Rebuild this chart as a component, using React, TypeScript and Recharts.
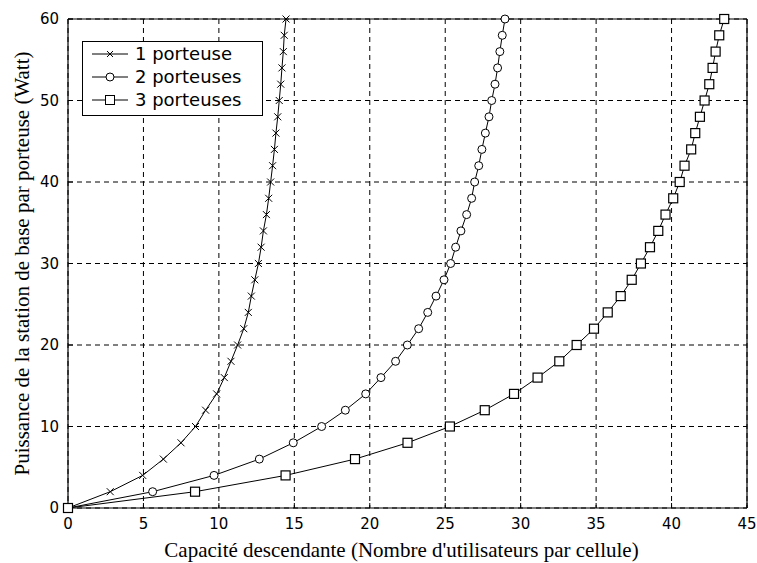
import React from 'react';
import { LineChart, Line, XAxis, YAxis, CartesianGrid, Legend } from 'recharts';

const powerWatts = [0, 2, 4, 6, 8, 10, 12, 14, 16, 18, 20, 22, 24, 26, 28, 30, 32, 34, 36, 38, 40, 42, 44, 46, 48, 50, 52, 54, 56, 58, 60];
const capacity1 = [0, 2.8, 4.95, 6.32, 7.49, 8.45, 9.12, 9.85, 10.36, 10.8, 11.24, 11.65, 11.95, 12.15, 12.38, 12.62, 12.8, 12.95, 13.15, 13.3, 13.43, 13.56, 13.68, 13.78, 13.9, 14.0, 14.1, 14.18, 14.27, 14.33, 14.45];
const capacity2 = [0, 5.61, 9.68, 12.68, 14.93, 16.81, 18.38, 19.73, 20.74, 21.71, 22.49, 23.24, 23.84, 24.39, 24.92, 25.36, 25.69, 26.04, 26.42, 26.75, 26.95, 27.22, 27.43, 27.66, 27.9, 28.08, 28.3, 28.47, 28.62, 28.78, 28.96];
const capacity3 = [0, 8.42, 14.42, 19.02, 22.5, 25.31, 27.62, 29.56, 31.12, 32.56, 33.71, 34.86, 35.77, 36.63, 37.36, 37.97, 38.57, 39.12, 39.6, 40.11, 40.54, 40.86, 41.3, 41.57, 41.88, 42.19, 42.5, 42.72, 42.92, 43.16, 43.49];
const xTicks = [0, 5, 10, 15, 20, 25, 30, 35, 40, 45];
const yTicks = [0, 10, 20, 30, 40, 50, 60];
const seriesNames = ['1 porteuse', '2 porteuses', '3 porteuses'];
const xLabel = "Capacité descendante (Nombre d'utilisateurs par cellule)";
const yLabel = 'Puissance de la station de base par porteuse (Watt)';

const toRows = (caps: number[]) => caps.map((x, i) => ({ x, y: powerWatts[i] }));
const data1 = toRows(capacity1);
const data2 = toRows(capacity2);
const data3 = toRows(capacity3);

const SANS = '"DejaVu Sans", sans-serif';
const SERIF = '"Liberation Serif", "Times New Roman", serif';

const crossPath = (cx: number, cy: number, s: number) =>
  `M${cx - s},${cy - s}L${cx + s},${cy + s}M${cx - s},${cy + s}L${cx + s},${cy - s}`;

const CrossDot = (p: any) => {
  const { cx, cy, index } = p;
  if (cx == null || cy == null) return <g key={`x${index}`} />;
  return <path key={`x${index}`} d={crossPath(cx, cy, 3.5)} stroke="#000" strokeWidth={1} fill="none" />;
};
const CircleDot = (p: any) => {
  const { cx, cy, index } = p;
  if (cx == null || cy == null) return <g key={`o${index}`} />;
  return <circle key={`o${index}`} cx={cx} cy={cy} r={4} stroke="#000" strokeWidth={1} fill="#fff" />;
};
const SquareDot = (p: any) => {
  const { cx, cy, index } = p;
  if (cx == null || cy == null) return <g key={`s${index}`} />;
  return <rect key={`s${index}`} x={cx - 4.5} y={cy - 4.5} width={9} height={9} stroke="#000" strokeWidth={1.2} fill="#fff" />;
};

const LegendBox = () => (
  <svg width={181} height={75} style={{ display: 'block' }}>
    <rect x={0.5} y={0.5} width={180} height={74} fill="#fff" stroke="#000" strokeWidth={1} />
    {seriesNames.map((name, i) => {
      const cy = 13 + i * 23;
      const mx = 28;
      return (
        <g key={name}>
          <line x1={10} x2={46} y1={cy} y2={cy} stroke="#000" strokeWidth={1} />
          {i === 0 && <path d={crossPath(mx, cy, 3)} stroke="#000" fill="none" />}
          {i === 1 && <circle cx={mx} cy={cy} r={4} stroke="#000" fill="#fff" />}
          {i === 2 && <rect x={mx - 4.5} y={cy - 4.5} width={9} height={9} stroke="#000" fill="#fff" />}
          <text x={53} y={cy} dy="0.36em" fontFamily={SANS} fontSize={18} fill="#000">{name}</text>
        </g>
      );
    })}
  </svg>
);

const XLabel = (props: any) => {
  const vb = props.viewBox || { x: 68, y: 508, width: 679, height: 55 };
  return (
    <text x={vb.x + vb.width / 2 - 6} y={vb.y + 49} textAnchor="middle" fontFamily={SERIF} fontSize={21} fill="#000">
      {xLabel}
    </text>
  );
};
const YLabel = (props: any) => {
  const vb = props.viewBox || { x: 0, y: 19, width: 68, height: 489 };
  const cx = vb.x + 22;
  const cy = vb.y + vb.height / 2;
  return (
    <text x={cx} y={cy} transform={`rotate(-90 ${cx} ${cy})`} textAnchor="middle" dy="0.35em" fontFamily={SERIF} fontSize={21} fill="#000">
      {yLabel}
    </text>
  );
};

export default function App() {
  const tickStyle = { fontFamily: SANS, fontSize: 15, fill: '#000' };
  return (
    <div style={{ position: 'absolute', left: 0, top: 0, width: 757, height: 563, background: '#fff' }}>
      <LineChart width={757} height={563} margin={{ top: 18, right: 9, bottom: 0, left: 0 }}>
        <CartesianGrid stroke="#000" strokeDasharray="5 4" strokeWidth={1} />
        <XAxis
          type="number"
          dataKey="x"
          domain={[0, 45]}
          ticks={xTicks}
          interval={0}
          height={55}
          tickSize={-5}
          tickMargin={15}
          tick={tickStyle}
          axisLine={{ stroke: '#000', strokeWidth: 1.2 }}
          tickLine={{ stroke: '#000' }}
          label={{ content: XLabel }}
        />
        <XAxis
          xAxisId="top"
          orientation="top"
          type="number"
          dataKey="x"
          domain={[0, 45]}
          ticks={xTicks}
          interval={0}
          height={1}
          tickSize={-5}
          tick={false}
          axisLine={{ stroke: '#000', strokeWidth: 1.2 }}
          tickLine={{ stroke: '#000' }}
        />
        <YAxis
          type="number"
          dataKey="y"
          domain={[0, 60]}
          ticks={yTicks}
          interval={0}
          width={68}
          tickSize={-5}
          tickMargin={14}
          tick={tickStyle}
          axisLine={{ stroke: '#000', strokeWidth: 1.2 }}
          tickLine={{ stroke: '#000' }}
          label={{ content: YLabel }}
        />
        <YAxis
          yAxisId="right"
          orientation="right"
          type="number"
          dataKey="y"
          domain={[0, 60]}
          ticks={yTicks}
          interval={0}
          width={1}
          tickSize={-5}
          tick={false}
          axisLine={{ stroke: '#000', strokeWidth: 1.2 }}
          tickLine={{ stroke: '#000' }}
        />
        <Legend
          layout="vertical"
          align="center"
          verticalAlign="middle"
          wrapperStyle={{ left: 82, top: 41, width: 181, height: 75 }}
          content={LegendBox}
        />
        <Line data={data1} dataKey="y" name={seriesNames[0]} type="linear" stroke="#000" strokeWidth={1} dot={CrossDot} activeDot={false} isAnimationActive={false} />
        <Line data={data2} dataKey="y" name={seriesNames[1]} type="linear" stroke="#000" strokeWidth={1} dot={CircleDot} activeDot={false} isAnimationActive={false} />
        <Line data={data3} dataKey="y" name={seriesNames[2]} type="linear" stroke="#000" strokeWidth={1} dot={SquareDot} activeDot={false} isAnimationActive={false} />
      </LineChart>
    </div>
  );
}
